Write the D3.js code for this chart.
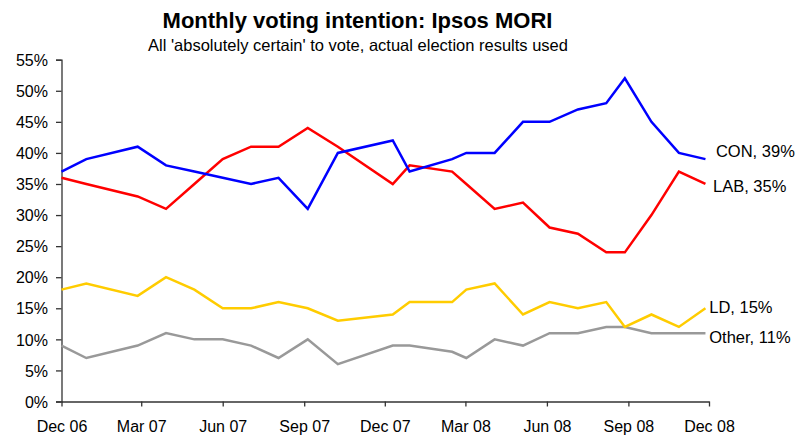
<!DOCTYPE html>
<html>
<head>
<meta charset="utf-8">
<script src="https://cdn.jsdelivr.net/npm/d3@7"></script>
<style>
  html, body { margin: 0; padding: 0; background: #fff; }
  svg { display: block; font-family: "Liberation Sans", Arial, sans-serif; }
</style>
</head>
<body>
<svg id="chart" width="798" height="435"></svg>
<script>
// ---- Data ----
const pollDates = [
  "2006-12-01", "2006-12-29", "2007-02-25", "2007-03-29", "2007-04-30", "2007-06-01",
  "2007-07-03", "2007-08-03", "2007-09-05", "2007-10-09", "2007-12-10", "2007-12-29",
  "2008-02-15", "2008-03-02", "2008-04-03", "2008-05-05", "2008-06-04", "2008-07-06",
  "2008-08-07", "2008-08-28", "2008-09-27", "2008-10-28", "2008-11-27"
];
const con   = [37, 39, 41, 38, 37, 36, 35, 36, 31, 40, 42, 37, 39, 40, 40, 45, 45, 47, 48, 52, 45, 40, 39];
const lab   = [36, 35, 33, 31, 35, 39, 41, 41, 44, 41, 35, 38, 37, 35, 31, 32, 28, 27, 24, 24, 30, 37, 35];
const ld    = [18, 19, 17, 20, 18, 15, 15, 16, 15, 13, 14, 16, 16, 18, 19, 14, 16, 15, 16, 12, 14, 12, 15];
const other = [9, 7, 9, 11, 10, 10, 9, 7, 10, 6, 9, 9, 8, 7, 10, 9, 11, 11, 12, 12, 11, 11, 11];
const seriesNames = ["CON", "LAB", "LD", "Other"];
const xTickLabels = ["Dec 06", "Mar 07", "Jun 07", "Sep 07", "Dec 07", "Mar 08", "Jun 08", "Sep 08", "Dec 08"];
const yTickValues = [0, 5, 10, 15, 20, 25, 30, 35, 40, 45, 50, 55];
const titleText = "Monthly voting intention: Ipsos MORI";
const subtitleText = "All 'absolutely certain' to vote, actual election results used";

// ---- Styles ----
const colors = { CON: "#0000ff", LAB: "#ff0000", LD: "#ffcc00", Other: "#999999" };
const labelOffsets = { CON: [10.5, -2.6], LAB: [7.5, 8.5], LD: [3.8, 5.2], Other: [3.8, 9.9] };

const parseDate = d3.timeParse("%Y-%m-%d");
const parseTick = d3.timeParse("%b %y");
const dates = pollDates.map(parseDate);
const tickDates = xTickLabels.map(parseTick);
const values = { CON: con, LAB: lab, LD: ld, Other: other };

const svg = d3.select("#chart");

const x = d3.scaleTime()
  .domain([tickDates[0], tickDates[tickDates.length - 1]])
  .range([61.5, 709]);
const y = d3.scaleLinear().domain([0, 55]).range([401.5, 59.7]);

// Title
svg.append("text").attr("x", 357.5).attr("y", 28)
  .attr("text-anchor", "middle").attr("font-size", 22).attr("font-weight", "bold")
  .attr("fill", "#000").text(titleText);
svg.append("text").attr("x", 358).attr("y", 51)
  .attr("text-anchor", "middle").attr("font-size", 16.5)
  .attr("fill", "#000").text(subtitleText);

// Y axis
const yAxis = d3.axisLeft(y).tickValues(yTickValues)
  .tickFormat(d => d + "%").tickSize(5.5).tickPadding(8);
const gy = svg.append("g").attr("transform", "translate(61.5,0)").call(yAxis);
gy.select(".domain").attr("stroke", "#333").attr("stroke-width", 1.3);
gy.selectAll(".tick line").attr("stroke", "#333").attr("stroke-width", 1.3);
gy.selectAll(".tick text").attr("font-size", 16).attr("font-family", "Liberation Sans, Arial, sans-serif")
  .attr("fill", "#000").attr("dy", "0.355em");

// X axis
const xAxis = d3.axisBottom(x).tickValues(tickDates)
  .tickFormat((d, i) => xTickLabels[i]).tickSize(5).tickSizeOuter(0).tickPadding(18);
const gx = svg.append("g").attr("transform", "translate(0,401.5)").call(xAxis);
gx.select(".domain").attr("stroke", "#333").attr("stroke-width", 1.3);
gx.selectAll(".tick line").attr("stroke", "#333").attr("stroke-width", 1.3);
gx.selectAll(".tick text").attr("font-size", 16).attr("font-family", "Liberation Sans, Arial, sans-serif")
  .attr("fill", "#000").attr("dy", "0").attr("y", 30);

// Lines
const line = d3.line().x((d, i) => x(dates[i])).y(d => y(d));
const drawOrder = ["Other", "LD", "LAB", "CON"];
drawOrder.forEach(name => {
  svg.append("path")
    .datum(values[name])
    .attr("fill", "none")
    .attr("stroke", colors[name])
    .attr("stroke-width", 2.5)
    .attr("stroke-linejoin", "miter")
    .attr("d", line);
});

// End labels
seriesNames.forEach(name => {
  const v = values[name];
  const last = v.length - 1;
  svg.append("text")
    .attr("x", x(dates[last]) + labelOffsets[name][0])
    .attr("y", y(v[last]) + labelOffsets[name][1])
    .attr("font-size", 16.5)
    .attr("fill", "#000")
    .text(name + ", " + v[last] + "%");
});
</script>
</body>
</html>
